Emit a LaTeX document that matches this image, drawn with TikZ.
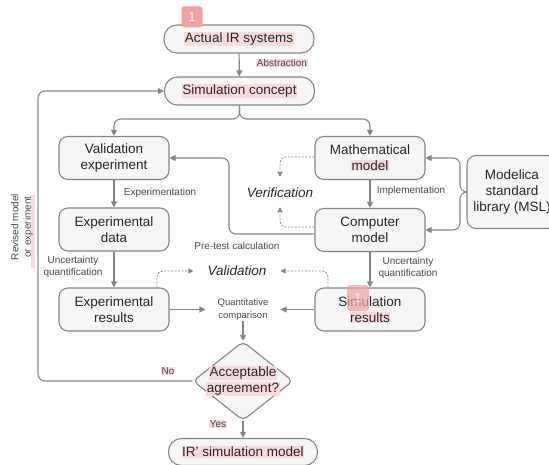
\documentclass[tikz,border=0pt]{standalone}
\usepackage{fontspec}
\setmainfont{Liberation Sans}
\usetikzlibrary{arrows.meta,positioning,calc,shapes.geometric}
\definecolor{Ink}{HTML}{262626}
\definecolor{Edge}{HTML}{858585}
\definecolor{BoxFill}{HTML}{F6F6F6}
\definecolor{HiPink}{HTML}{F9DADC}
\definecolor{Badge}{HTML}{F2A0A0}
\setlength{\fboxsep}{0.6pt}
\newcommand{\hlt}[1]{\colorbox{HiPink}{#1}}

\begin{document}
\begin{tikzpicture}[x=1pt,y=-1pt,
  box/.style={draw=Edge,fill=BoxFill,line width=1.1pt,rounded corners=9pt,align=center,font=\fontsize{13.5}{16}\selectfont,text=Ink,inner sep=2pt},
  pill/.style={box,rounded corners=13pt,minimum width=150pt,minimum height=28pt},
  blk/.style={box,minimum width=110pt,minimum height=43pt},
  dia/.style={box,diamond,rounded corners=5pt,minimum width=100pt,minimum height=69pt,inner sep=-6pt},
  lbl/.style={font=\fontsize{10}{12.5}\selectfont,text=Ink!85,align=center,inner sep=1pt},
  ital/.style={font=\fontsize{13.5}{15}\selectfont\itshape,text=Ink,inner sep=0pt},
  badge/.style={fill=Badge,rounded corners=3pt,text=white,font=\fontsize{13}{13}\selectfont},
  arr/.style={-{Triangle[length=6pt,width=6pt]},draw=Edge,line width=1.1pt,rounded corners=7pt},
  dsh/.style={-{Triangle[length=5pt,width=5pt]},draw=Edge,line width=0.8pt,dash pattern=on 2pt off 1.5pt,rounded corners=6pt}]
\useasboundingbox (0,0) rectangle (549,465);
\node[pill] (actual) at (239,39) {\hlt{Actual IR systems}};
\node[pill] (concept) at (239.5,91) {\hlt{Simulation concept}};
\node[blk] (valexp) at (114,158) {Validation\\experiment};
\node[blk] (mathmod) at (370,158) {Mathematical\\\hlt{model}};
\node[blk] (compmod) at (370,230) {Computer\\model};
\node[blk] (expdata) at (114,229.5) {Experimental\\data};
\node[blk] (expres) at (114,309.5) {Experimental\\results};
\node[blk] (simres) at (370,309.5) {Simulation\\\hlt{results}};
\node[box,minimum width=90pt,minimum height=73pt] (msl) at (512,192) {Modelica\\standard\\library (MSL)};
\node[lbl,font=\fontsize{9.5}{12.5}\selectfont,inner xsep=12pt] (quant) at (243,309.5) {Quantitative\\comparison};
\node[dia] (accept) at (243,381) {\hlt{Acceptable}\\\hlt{agreement?}};
\node[pill,minimum width=149pt,minimum height=27pt] (irsim) at (243,452) {\hlt{IR' simulation model}};
\node[badge,minimum width=21pt,minimum height=21pt] (badgetop) at (192,17) {1};
\node[badge,fill opacity=0.7,text opacity=0.8,minimum width=22pt,minimum height=26pt] (badgesim) at (358,298) {1};
\node[lbl] (abstr) at (282,63) {\hlt{Abstraction}};
\node[lbl] (exper) at (160,193) {Experimentation};
\node[lbl] (impl) at (411,191) {Implementation};
\node[lbl] (uqleft) at (73,267) {Uncertainty\\quantification};
\node[lbl] (uqright) at (408,268) {Uncertainty\\quantification};
\node[lbl] (pretest) at (237,246) {Pre-test calculation};
\node[ital] (verif) at (280,193) {Verification};
\node[ital] (valid) at (237,271) {Validation};
\node[lbl] (no) at (168,371) {\hlt{No}};
\node[lbl] (yes) at (218,424) {\hlt{Yes}};
\fill[HiPink] (31,195) rectangle (35,268);
\node[lbl,rotate=90] (revised) at (22,227) {Revised model\\or experiment};
\coordinate (split) at (239.5,119);
\coordinate (mslbar) at (460,192);
\coordinate (pretestbar) at (229,0);
\coordinate (fbbar) at (38,0);
\coordinate (compout) at ([yshift=-4pt]compmod.west);
\draw[arr] (actual) -- (concept);
\draw[arr] (concept.south) -- (split) -| (valexp.north);
\draw[arr] (concept.south) -- (split) -| (mathmod.north);
\draw[arr] (valexp) -- (expdata);
\draw[arr] (expdata) -- (expres);
\draw[arr] (mathmod) -- (compmod);
\draw[arr] (compmod) -- (simres);
\draw[arr] (msl.west) -- (mslbar) |- (mathmod.east);
\draw[arr] (msl.west) -- (mslbar) |- (compmod.east);
\draw[arr] (compout) -- (compout -| pretestbar) |- (valexp.east);
\draw[dsh] ([yshift=1pt]mathmod.west) -| ([yshift=11pt]verif.north);
\draw[dsh] ([yshift=3pt]compmod.west) -| ([yshift=-9pt]verif.south);
\draw[dsh] ([xshift=43pt]expres.north) |- ([xshift=-14pt]valid.west);
\draw[dsh] ([xshift=-42pt]simres.north) |- ([xshift=14pt]valid.east);
\draw[arr] (expres) -- (quant);
\draw[arr] (simres) -- (quant);
\draw[arr] (quant) -- (accept);
\draw[arr] (accept) -- (irsim);
\draw[arr] (accept.west) -- (accept.west -| fbbar) |- (concept.west);
\end{tikzpicture}
\end{document}
